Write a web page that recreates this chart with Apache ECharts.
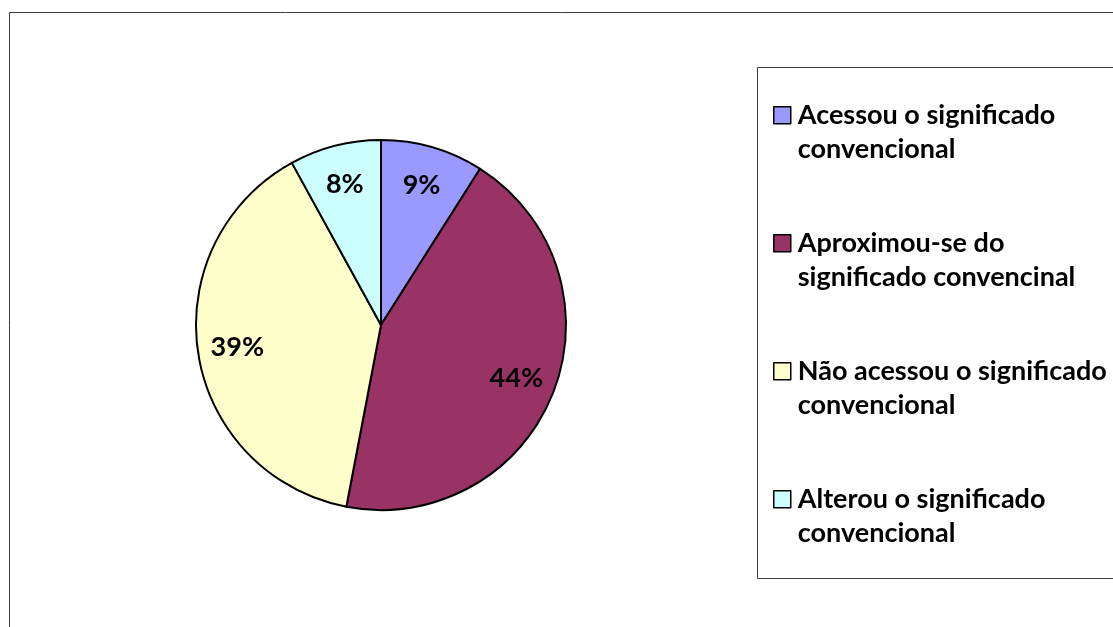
<!DOCTYPE html>
<html>
<head>
<meta charset="utf-8">
<script src="https://cdn.jsdelivr.net/npm/echarts@6/dist/echarts.min.js"></script>
<style>html,body{margin:0;padding:0;background:#fff;}#c{width:1113px;height:627px;}</style>
</head>
<body>
<div id="c"></div>
<script>
var categories = ['Acessou o significado convencional', 'Aproximou-se do significado convencinal', 'Não acessou o significado convencional', 'Alterou o significado convencional'];
var legendLabels = ['Acessou o significado\nconvencional', 'Aproximou-se do\nsignificado convencinal', 'Não acessou o significado\nconvencional', 'Alterou o significado\nconvencional'];
var values = [9, 44, 39, 8];
var colors = ['#9999FF', '#993366', '#FFFFCC', '#CCFFFF'];

var FONT = 'Lato';
var chart = echarts.init(document.getElementById('c'), null, {renderer: 'canvas'});
var data = categories.map(function (n, i) { return {name: n, value: values[i], itemStyle: {color: colors[i]}}; });
var overlay = categories.map(function (n, i) { return {name: n, value: values[i]}; });

chart.setOption({
  animation: false,
  backgroundColor: '#fff',
  color: colors,
  graphic: [
    {type: 'rect', z: -10, shape: {x: 9.5, y: 12.5, width: 1300, height: 1000}, style: {fill: 'none', stroke: '#3c3c3c', lineWidth: 1}},
    {type: 'rect', z: -5, shape: {x: 757.5, y: 67.5, width: 500, height: 511}, style: {fill: '#fff', stroke: '#3c3c3c', lineWidth: 1}}
  ],
  legend: {
    orient: 'vertical',
    left: 773,
    top: 63.5,
    padding: 0,
    icon: 'rect',
    itemWidth: 17,
    itemHeight: 17,
    itemGap: 24.5,
    selectedMode: false,
    data: categories.map(function (n, i) { return {name: n, itemStyle: {color: colors[i], borderColor: '#000', borderWidth: 1.5}}; }),
    formatter: function (name) { return ' \n' + legendLabels[categories.indexOf(name)]; },
    textStyle: {fontFamily: FONT, fontWeight: 'bold', fontSize: 27, color: '#000', lineHeight: 34.5, padding: [0, 0, 0, 2]}
  },
  series: [
    {
      type: 'pie',
      center: [381, 325],
      radius: 185,
      startAngle: 90,
      clockwise: true,
      silent: true,
      data: data,
      label: {show: false},
      labelLine: {show: false},
      itemStyle: {borderColor: '#000', borderWidth: 2}
    },
    {
      type: 'pie',
      center: [381, 325],
      radius: [100, 185],
      startAngle: 90,
      clockwise: true,
      silent: true,
      data: overlay,
      itemStyle: {color: 'rgba(0,0,0,0)', borderWidth: 0},
      label: {show: true, position: 'inside', formatter: '{c}%', fontFamily: FONT, fontWeight: 'bold', fontSize: 27, color: '#000'},
      labelLine: {show: false},
      emphasis: {disabled: true}
    }
  ]
});
</script>
</body>
</html>
